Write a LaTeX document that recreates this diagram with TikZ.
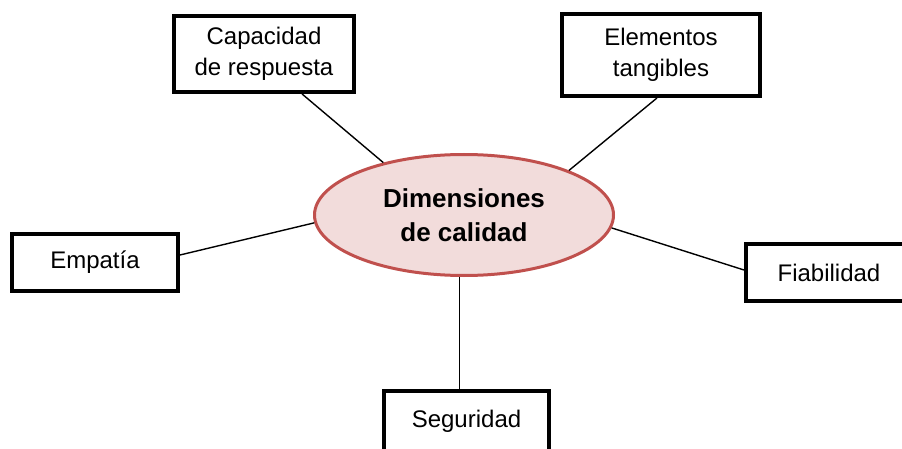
\documentclass[tikz,border=0pt]{standalone}
\usepackage{fontspec}
\setmainfont{Liberation Sans}
\usetikzlibrary{shapes.geometric,calc}
\definecolor{ellfill}{HTML}{F2DCDB}
\definecolor{elldraw}{HTML}{C0504D}
\begin{document}
\begin{tikzpicture}[x=1pt,y=-1pt,
  box/.style={draw=black,line width=4pt,rectangle,inner sep=0pt,align=center,
    font=\fontsize{24}{31.5}\selectfont,fill=white},
  center/.style={ellipse,draw=elldraw,fill=ellfill,line width=3pt,inner sep=0pt,
    minimum width=299pt,minimum height=121pt,align=center,
    font=\fontsize{26}{34}\selectfont\bfseries},
  conn/.style={draw=black,line width=1.4pt}]
\useasboundingbox (0,0) rectangle (902,449);
\clip (0,0) rectangle (902,449);
\node[center] (ell) at (464,215) {Dimensiones\\de calidad};
\node[box,minimum width=180pt,minimum height=76pt] (cap) at (264,54) {Capacidad\\de respuesta};
\node[box,minimum width=198pt,minimum height=82pt] (ele) at (661,55) {Elementos\\tangibles};
\node[box,minimum width=166pt,minimum height=57pt] (emp) at (95,262.5) {Empatía};
\node[box,minimum width=166pt,minimum height=57pt] (fia) at (829,272.5) {Fiabilidad};
\node[box,minimum width=165pt,minimum height=62pt] (seg) at (466.5,422) {\raisebox{6pt}{Seguridad}};
\draw[conn] ($(cap.south west)!0.707!(cap.south east)$) -- (ell.147);
\draw[conn] ($(ele.south west)!0.48!(ele.south east)$) -- (ell.23.5);
\draw[conn] ($(emp.east)+(0,-7.5)$) -- (ell.183.5);
\draw[conn] ($(fia.west)+(0,-2.5)$) -- (ell.-5.4);
\draw[conn] (ell.266) -- (ell.266 |- seg.north);
\end{tikzpicture}
\end{document}
